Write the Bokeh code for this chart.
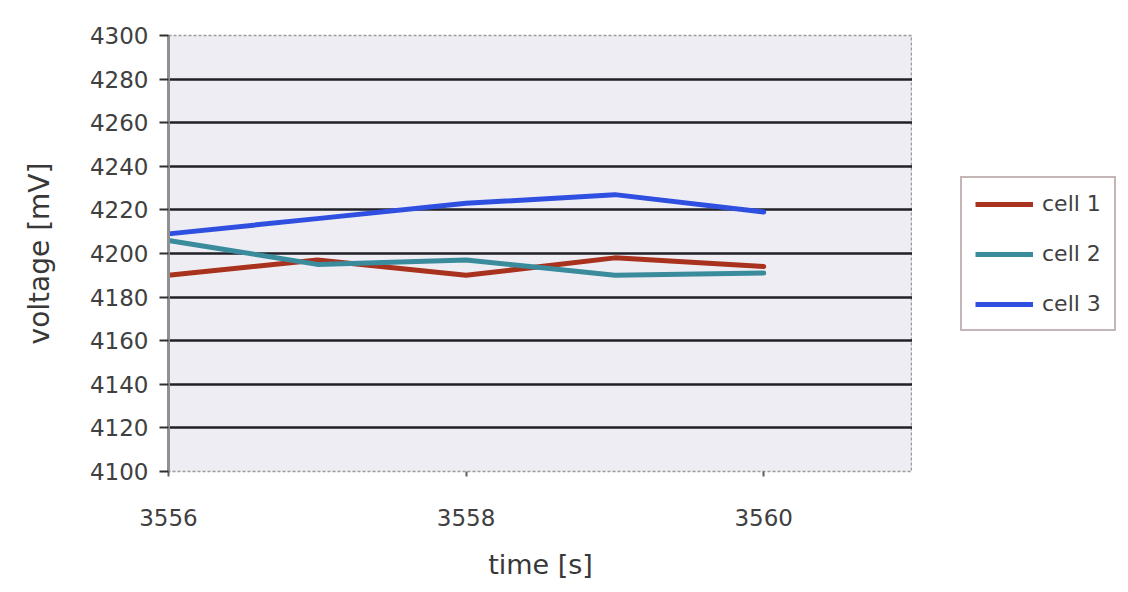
from bokeh.plotting import figure
from bokeh.layouts import row
from bokeh.models import Range1d, FixedTicker, Grid, Legend, LegendItem
from bokeh.embed import file_html
from bokeh.resources import INLINE

time_s = [3556, 3557, 3558, 3559, 3560]
cell1 = [4190, 4197, 4190, 4198, 4194]
cell2 = [4206, 4195, 4197, 4190, 4191]
cell3 = [4209, 4216, 4223, 4227, 4219]
series_names = ["cell 1", "cell 2", "cell 3"]
series_colors = ["#A8321E", "#3A8C9C", "#2F4FE0"]
x_ticks = [3556, 3558, 3560]
y_ticks = [4100, 4120, 4140, 4160, 4180, 4200, 4220, 4240, 4260, 4280, 4300]

FONT = "DejaVu Sans"

p = figure(width=912, height=584, output_backend="svg", toolbar_location=None,
           x_range=Range1d(3556, 3561), y_range=Range1d(4100, 4300),
           min_border_left=168, min_border_right=0, min_border_top=35, min_border_bottom=113)
p.background_fill_color = "#EEEDF3"
p.border_fill_color = "white"
p.outline_line_color = "#9c9a9a"
p.outline_line_width = 1.5
p.outline_line_dash = "3 2"

p.xgrid.visible = False
p.ygrid.visible = False
p.add_layout(Grid(dimension=1, ticker=FixedTicker(ticks=y_ticks[:-1]),
                  grid_line_color="#202028", grid_line_width=2.5))

# y axis
p.yaxis.ticker = FixedTicker(ticks=y_ticks)
p.yaxis.axis_line_color = "#909090"
p.yaxis.axis_line_width = 3
p.yaxis.major_tick_line_color = "#303030"
p.yaxis.major_tick_line_width = 2
p.yaxis.major_tick_out = 9
p.yaxis.major_tick_in = 0
p.yaxis.minor_tick_line_color = None
p.yaxis.major_label_standoff = 11
p.yaxis.major_label_text_font = FONT
p.yaxis.major_label_text_font_size = "23px"
p.yaxis.major_label_text_color = "#404040"
p.yaxis.axis_label = "voltage [mV]"
p.yaxis.axis_label_text_font = FONT
p.yaxis.axis_label_text_font_size = "28px"
p.yaxis.axis_label_text_font_style = "normal"
p.yaxis.axis_label_text_color = "#383838"
p.yaxis.axis_label_standoff = 31

# x axis
p.xaxis.ticker = FixedTicker(ticks=x_ticks)
p.xaxis.axis_line_color = None
p.xaxis.major_tick_line_color = "#606060"
p.xaxis.major_tick_line_width = 2
p.xaxis.major_tick_out = 5
p.xaxis.major_tick_in = 0
p.xaxis.minor_tick_line_color = None
p.xaxis.major_label_standoff = 32
p.xaxis.major_label_text_font = FONT
p.xaxis.major_label_text_font_size = "23px"
p.xaxis.major_label_text_color = "#404040"
p.xaxis.axis_label = "time [s]"
p.xaxis.axis_label_text_font = FONT
p.xaxis.axis_label_text_font_size = "27px"
p.xaxis.axis_label_text_font_style = "normal"
p.xaxis.axis_label_text_color = "#383838"
p.xaxis.axis_label_standoff = 20

# legend panel: same series drawn outside its visible range, legend only
lg = figure(width=208, height=584, output_backend="svg", toolbar_location=None,
            x_range=Range1d(0, 1), y_range=Range1d(0, 1), min_border=0)
lg.axis.visible = False
lg.grid.visible = False
lg.outline_line_color = None
lg.background_fill_color = "white"
lg.border_fill_color = "white"

items = []
for name, ys, col in zip(series_names, [cell1, cell2, cell3], series_colors):
    p.line(time_s, ys, line_color=col, line_width=5, line_join="round", line_cap="round")
    r2 = lg.line(time_s, ys, line_color=col, line_width=5)
    items.append(LegendItem(label=name, renderers=[r2]))

legend = Legend(items=items, location=(48, 140), orientation="vertical",
                glyph_width=58, glyph_height=20, spacing=25, padding=13, margin=0,
                label_standoff=9, label_text_font=FONT, label_text_font_size="22px",
                label_text_color="#404040", border_line_color="#8a6e6e", border_line_width=2,
                background_fill_color="white", background_fill_alpha=1.0)
lg.add_layout(legend, "center")

layout = row(p, lg)
open("out.html", "w").write(file_html(layout, INLINE))
